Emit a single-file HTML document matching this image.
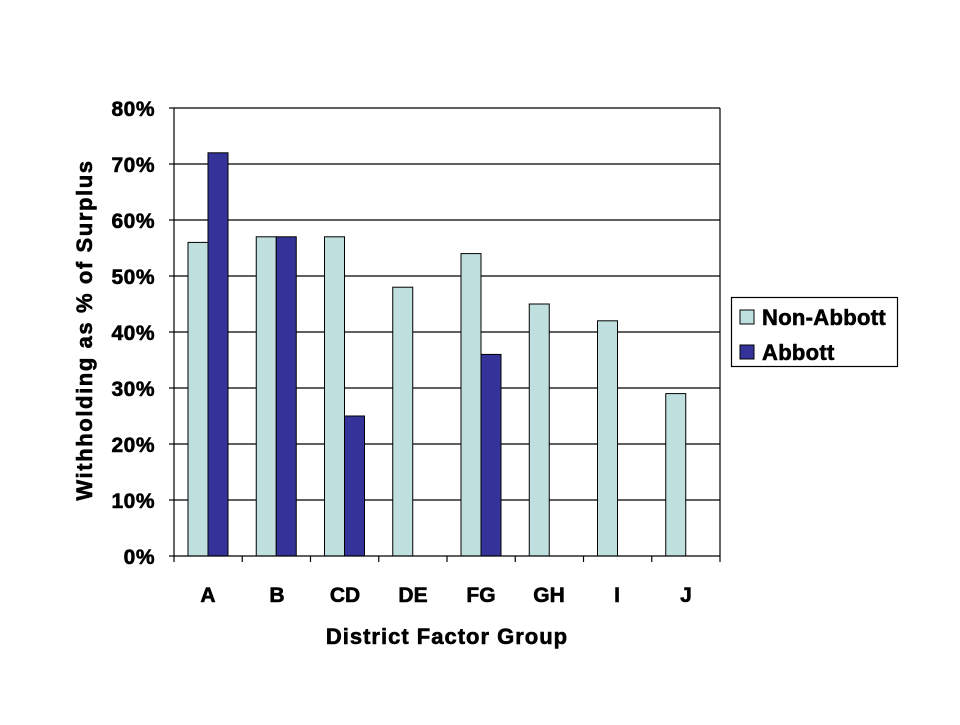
<!DOCTYPE html>
<html><head><style>body{margin:0;background:#fff}</style></head><body>
<svg width="960" height="720" xmlns="http://www.w3.org/2000/svg" font-family="Liberation Sans, Arial, sans-serif" font-weight="bold">
<rect width="960" height="720" fill="#fff"/>
<g stroke="#000" stroke-width="1.2">
<line x1="174" y1="108" x2="720" y2="108"/>
<line x1="174" y1="164" x2="720" y2="164"/>
<line x1="174" y1="220" x2="720" y2="220"/>
<line x1="174" y1="276" x2="720" y2="276"/>
<line x1="174" y1="332" x2="720" y2="332"/>
<line x1="174" y1="388" x2="720" y2="388"/>
<line x1="174" y1="444" x2="720" y2="444"/>
<line x1="174" y1="500" x2="720" y2="500"/>
<line x1="720" y1="108" x2="720" y2="556"/>
</g>
<g stroke="#000" stroke-width="1">
<rect x="188" y="242.4" width="20" height="313.6" fill="#C0E0E0"/>
<rect x="208" y="152.8" width="20" height="403.2" fill="#333399"/>
<rect x="256.25" y="236.8" width="20" height="319.2" fill="#C0E0E0"/>
<rect x="276.25" y="236.8" width="20" height="319.2" fill="#333399"/>
<rect x="324.5" y="236.8" width="20" height="319.2" fill="#C0E0E0"/>
<rect x="344.5" y="416" width="20" height="140" fill="#333399"/>
<rect x="392.75" y="287.2" width="20" height="268.8" fill="#C0E0E0"/>
<rect x="461" y="253.6" width="20" height="302.4" fill="#C0E0E0"/>
<rect x="481" y="354.4" width="20" height="201.6" fill="#333399"/>
<rect x="529.25" y="304" width="20" height="252" fill="#C0E0E0"/>
<rect x="597.5" y="320.8" width="20" height="235.2" fill="#C0E0E0"/>
<rect x="665.75" y="393.6" width="20" height="162.4" fill="#C0E0E0"/>
</g>
<g stroke="#000" stroke-width="1.2">
<line x1="174" y1="108" x2="174" y2="556"/>
<line x1="174" y1="556" x2="720" y2="556"/>
<line x1="169" y1="108" x2="174" y2="108"/><line x1="169" y1="164" x2="174" y2="164"/>
<line x1="169" y1="220" x2="174" y2="220"/><line x1="169" y1="276" x2="174" y2="276"/>
<line x1="169" y1="332" x2="174" y2="332"/><line x1="169" y1="388" x2="174" y2="388"/>
<line x1="169" y1="444" x2="174" y2="444"/><line x1="169" y1="500" x2="174" y2="500"/>
<line x1="169" y1="556" x2="174" y2="556"/>
<line x1="174" y1="556" x2="174" y2="562"/><line x1="242.25" y1="556" x2="242.25" y2="562"/>
<line x1="310.5" y1="556" x2="310.5" y2="562"/><line x1="378.75" y1="556" x2="378.75" y2="562"/>
<line x1="447" y1="556" x2="447" y2="562"/><line x1="515.25" y1="556" x2="515.25" y2="562"/>
<line x1="583.5" y1="556" x2="583.5" y2="562"/><line x1="651.75" y1="556" x2="651.75" y2="562"/>
<line x1="720" y1="556" x2="720" y2="562"/>
</g>
<g stroke="#000" stroke-width="0.6">
<g font-size="21" text-anchor="end" letter-spacing="0.5">
<text x="155" y="116">80%</text><text x="155" y="172">70%</text><text x="155" y="228">60%</text>
<text x="155" y="284">50%</text><text x="155" y="340">40%</text><text x="155" y="396">30%</text>
<text x="155" y="452">20%</text><text x="155" y="508">10%</text><text x="155" y="564">0%</text>
</g>
<g font-size="21" text-anchor="middle">
<text x="208" y="602">A</text><text x="277" y="602">B</text><text x="345" y="602">CD</text>
<text x="413" y="602">DE</text><text x="481" y="602">FG</text><text x="549" y="602">GH</text>
<text x="617" y="602">I</text><text x="686" y="602">J</text>
<text x="447" y="644" font-size="22" letter-spacing="1">District Factor Group</text>
<text transform="translate(92,330) rotate(-90)" font-size="22" letter-spacing="1.6">Withholding as % of Surplus</text>
</g>
<text x="762" y="325" font-size="22" letter-spacing="0.3">Non-Abbott</text>
<text x="762" y="360" font-size="22" letter-spacing="0.3">Abbott</text>
</g>
<rect x="731.5" y="297.5" width="166" height="69" fill="none" stroke="#000" stroke-width="1.2"/>
<rect x="740" y="310" width="14" height="14" fill="#C0E0E0" stroke="#000"/>
<rect x="740" y="345" width="14" height="14" fill="#333399" stroke="#000"/>
</svg>
</body></html>
